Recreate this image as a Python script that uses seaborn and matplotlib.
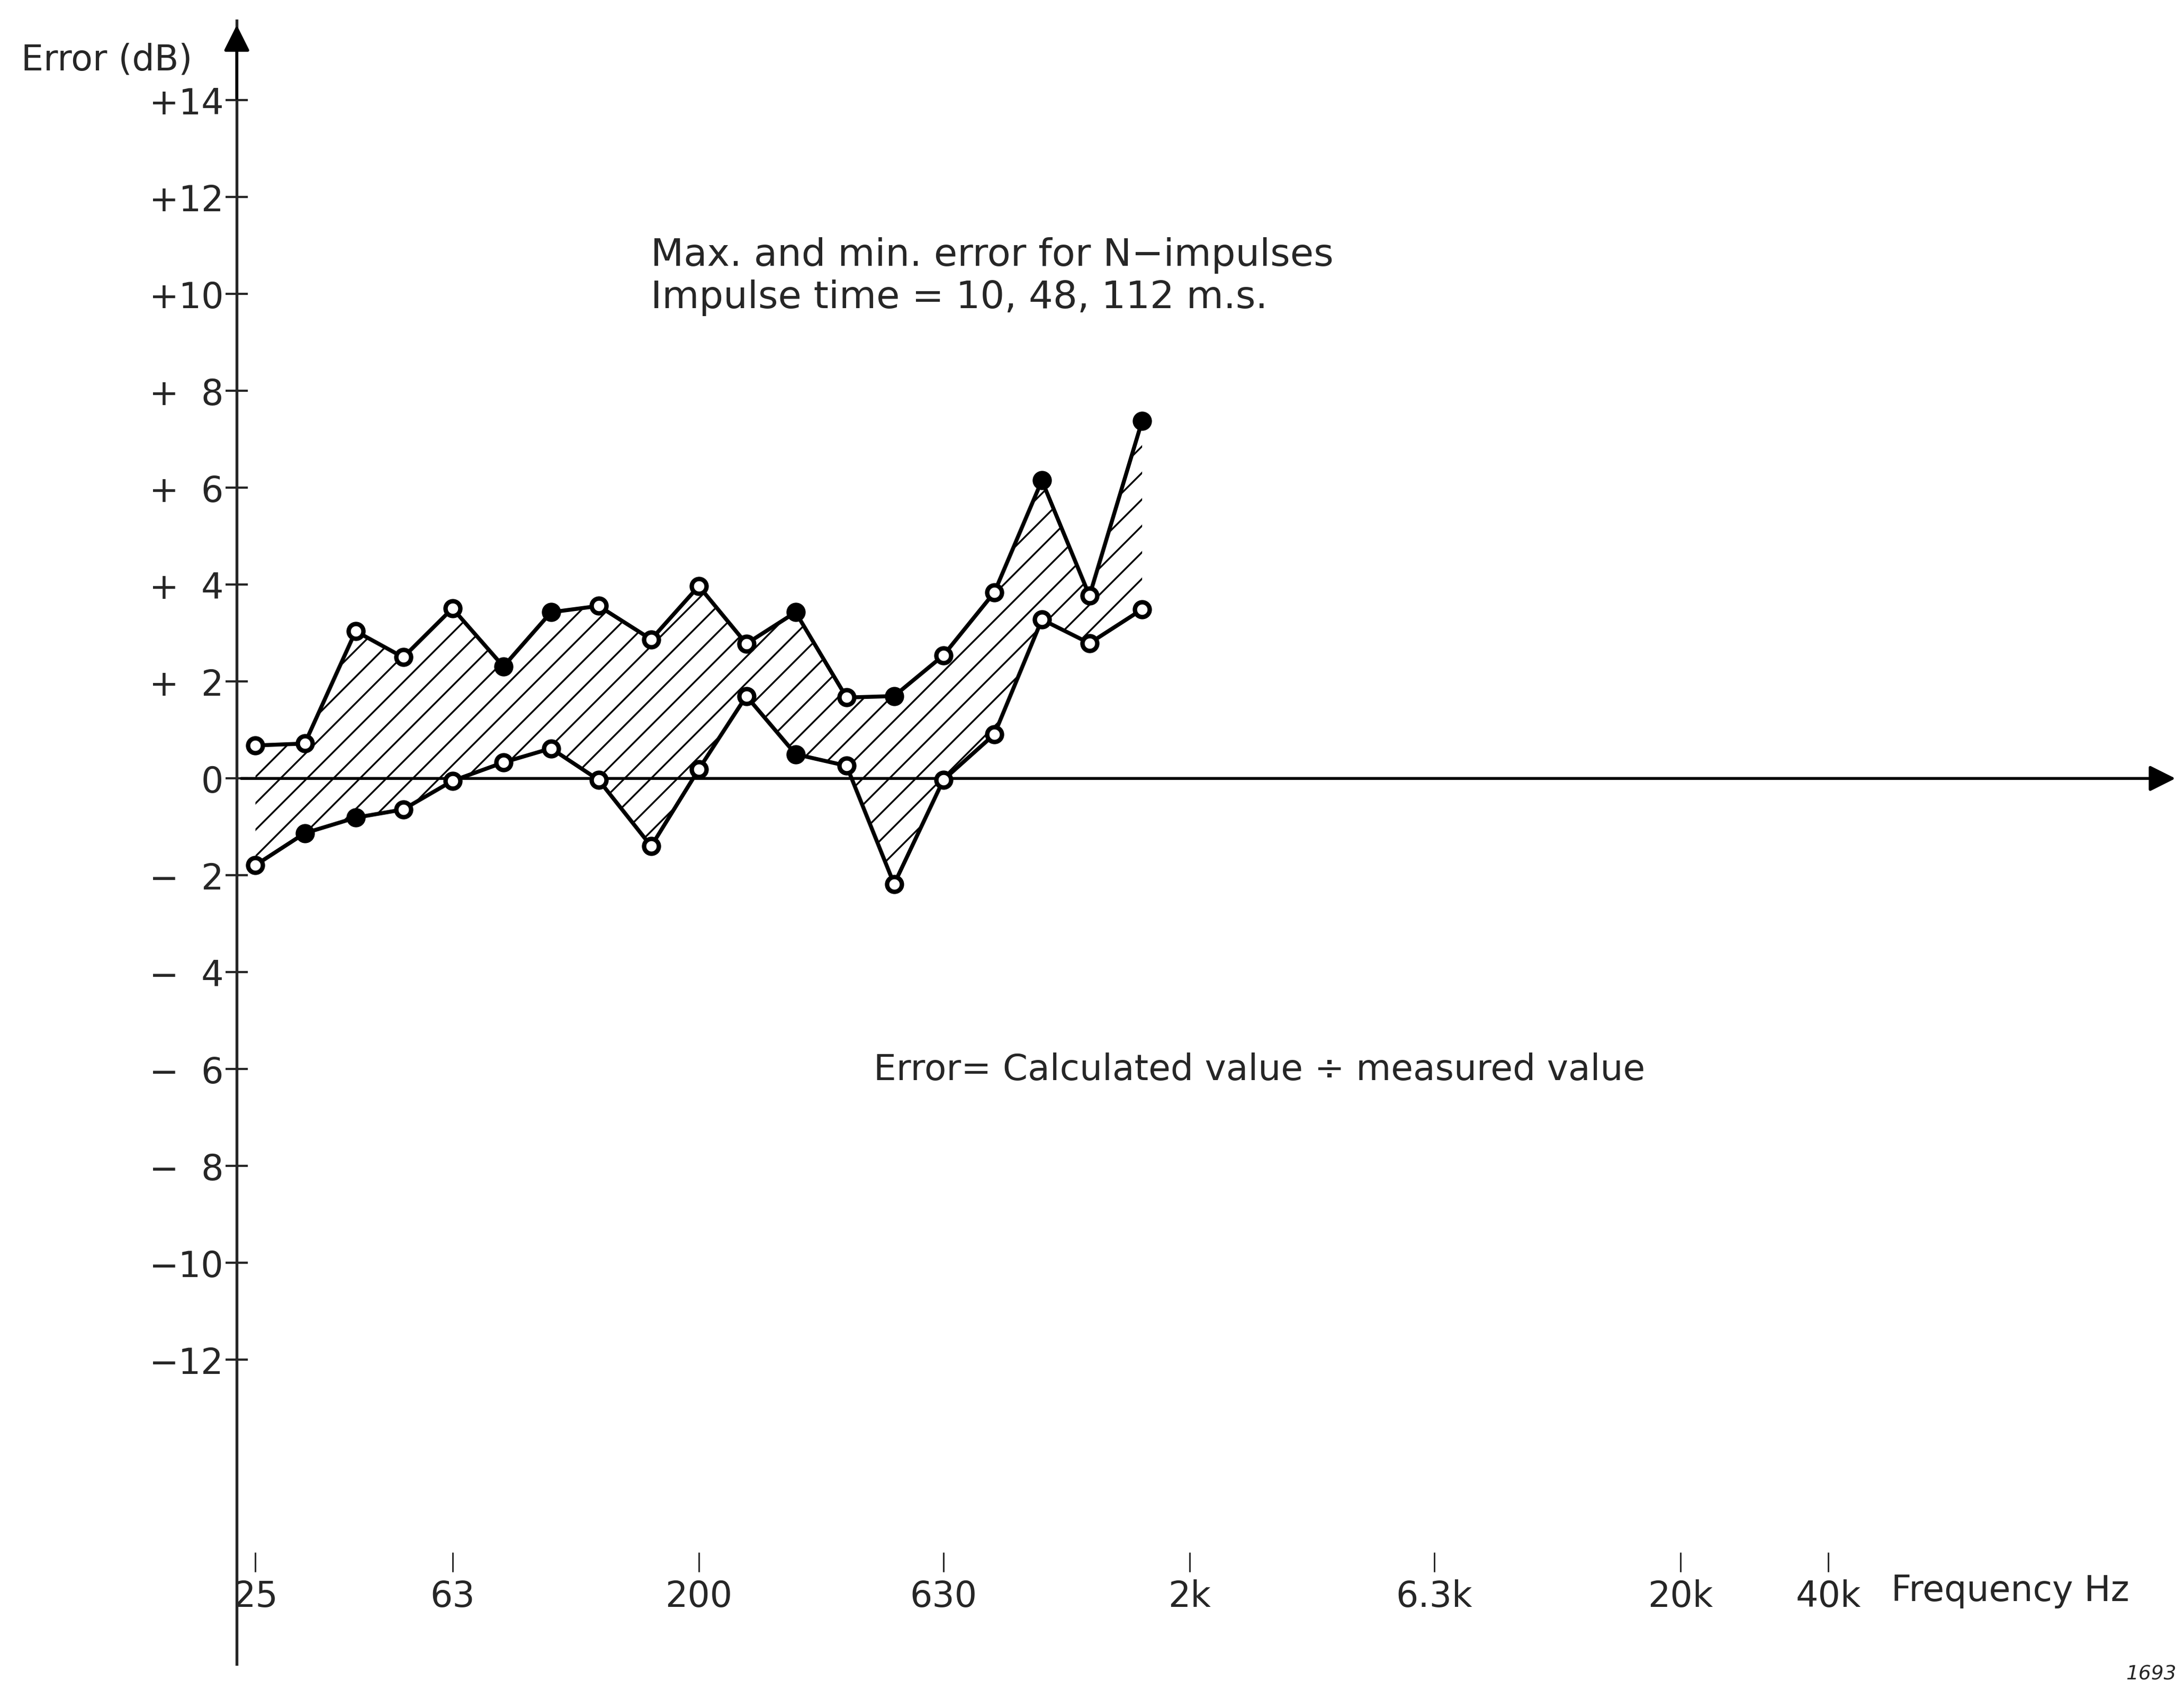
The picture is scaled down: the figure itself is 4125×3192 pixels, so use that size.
import numpy as np
import pandas as pd
import matplotlib
matplotlib.use("Agg")
import matplotlib.pyplot as plt
import seaborn as sns

# third-octave band centres (Hz)
freqs = [25, 31.5, 40, 50, 63, 80, 100, 125, 160, 200, 250, 315, 400, 500, 630, 800, 1000, 1250, 1600]
max_err = [0.68, 0.72, 3.04, 2.50, 3.51, 2.31, 3.43, 3.56, 2.87, 3.97, 2.78, 3.43, 1.67, 1.70, 2.54, 3.84, 6.15, 3.77, 7.38]
min_err = [-1.79, -1.13, -0.81, -0.64, -0.05, 0.33, 0.62, -0.03, -1.40, 0.19, 1.70, 0.50, 0.26, -2.18, -0.03, 0.91, 3.28, 2.79, 3.49]
max_filled = [0, 0, 0, 0, 0, 1, 1, 0, 0, 0, 0, 1, 0, 1, 0, 0, 1, 0, 1]
min_filled = [0, 1, 1, 0, 0, 0, 0, 0, 0, 0, 0, 1, 0, 0, 0, 0, 0, 0, 0]

xtick_vals = [25, 63, 200, 630, 2000, 6300, 20000, 40000]
xtick_labels = ["25", "63", "200", "630", "2k", "6.3k", "20k", "40k"]
ytick_vals = list(range(-12, 15, 2))
ytick_labels = ["−12", "−10", "−  8", "−  6", "−  4", "−  2", "0",
                "+  2", "+  4", "+  6", "+  8", "+10", "+12", "+14"]

df = pd.DataFrame({"freq": freqs * 2,
                   "err": max_err + min_err,
                   "kind": ["max"] * len(freqs) + ["min"] * len(freqs),
                   "filled": max_filled + min_filled})

sns.set_style("white")
plt.rcParams["font.family"] = ["DejaVu Sans"]
plt.rcParams["hatch.linewidth"] = 0.8

fig = plt.figure(figsize=(13.75, 10.643), dpi=300)
ax = fig.add_axes([0.1084, 0.0153, 0.8897, 0.9722])

ax.fill_between(freqs, min_err, max_err, facecolor="none", edgecolor="black",
                hatch="//", linewidth=0)
sns.lineplot(data=df, x="freq", y="err", units="kind", estimator=None,
             color="black", linewidth=1.8, ax=ax, legend=False)
for flag, face in [(0, "white"), (1, "black")]:
    sub = df[df["filled"] == flag]
    sns.scatterplot(data=sub, x="freq", y="err", s=45, color=face,
                    edgecolor="black", linewidth=2.0, ax=ax, legend=False, zorder=5)

ax.set_xscale("log")
ax.set_xlim(22.9, 208000)
ax.set_ylim(-18.28, 15.64)

for s in ["top", "right"]:
    ax.spines[s].set_visible(False)
ax.spines["left"].set_linewidth(1.3)
ax.spines["bottom"].set_position(("data", -16.38))
ax.spines["bottom"].set_visible(False)

# axis arrows
ax.annotate("", xy=(0, 1.0), xycoords="axes fraction", xytext=(0, 0.95),
            arrowprops=dict(arrowstyle="-|>", color="black", lw=1.3, mutation_scale=25))
ax.annotate("", xy=(1.0, 0), xycoords=("axes fraction", "data"), xytext=(0, 0),
            textcoords=("axes fraction", "data"),
            arrowprops=dict(arrowstyle="-|>", color="black", lw=1.3, mutation_scale=25))

ax.set_yticks(ytick_vals)
ax.set_yticklabels(ytick_labels)
ax.tick_params(axis="y", left=True, direction="inout", length=10, width=1.0, pad=1, labelsize=16)
ax.set_xticks(xtick_vals)
ax.set_xticklabels(xtick_labels)
ax.xaxis.set_minor_locator(matplotlib.ticker.NullLocator())
ax.tick_params(axis="x", bottom=True, direction="in", length=9, width=0.7, pad=3, labelsize=16)
ax.set_xlabel("")
ax.set_ylabel("")

fig.text(0.0097, 0.9646, "Error (dB)", fontsize=16, ha="left", va="center")
fig.text(0.298, 0.849, "Max. and min. error for N−impulses", fontsize=17.3, ha="left", va="center")
fig.text(0.298, 0.8237, "Impulse time = 10, 48, 112 m.s.", fontsize=17.3, ha="left", va="center")
fig.text(0.40, 0.367, "Error= Calculated value ÷ measured value", fontsize=16.3, ha="left", va="center")
fig.text(0.866, 0.0589, "Frequency Hz", fontsize=16, ha="left", va="center")
fig.text(0.985, 0.004, "1693", fontsize=9, ha="center", va="bottom", style="italic")

fig.savefig("out.png", dpi=300)
